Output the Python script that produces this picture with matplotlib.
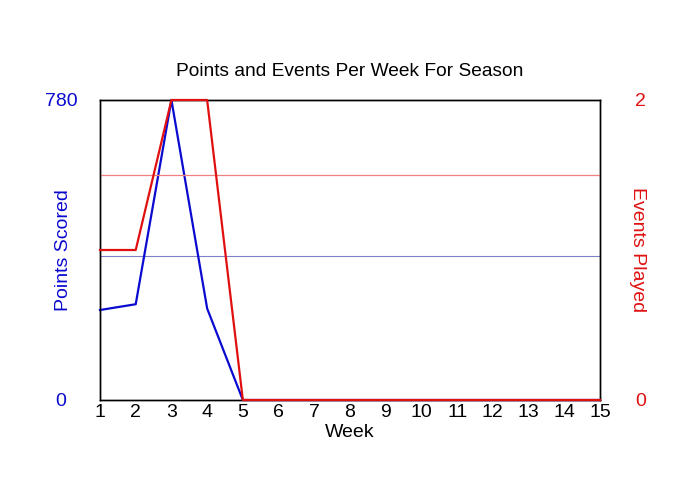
import matplotlib
matplotlib.use("Agg")
import matplotlib.pyplot as plt

weeks = list(range(1, 16))
points = [234, 249, 780, 238, 0, 0, 0, 0, 0, 0, 0, 0, 0, 0, 0]
events = [1, 1, 2, 2, 0, 0, 0, 0, 0, 0, 0, 0, 0, 0, 0]
points_avg = 375.25
events_avg = 1.5

plt.rcParams['font.family'] = ['Liberation Sans', 'DejaVu Sans']

fig = plt.figure(figsize=(7, 5), dpi=100)
ax = fig.add_axes([100/700, 0.2, 500/700, 0.6])
ax2 = ax.twinx()

blue = '#0a0ad0'
red = '#e01010'

ax.axhline(points_avg, color='#8080c8', lw=0.8, zorder=1)
ax.plot(weeks, points, color=blue, lw=1.6, zorder=3, clip_on=False)
ax2.axhline(events_avg, color='#f08080', lw=0.9, zorder=1)
ax2.plot(weeks, events, color=red, lw=1.6, zorder=3, clip_on=False)

ax.set_xlim(1, 15)
ax.set_ylim(0, 780)
ax2.set_ylim(0, 2)
ax.set_xticks(weeks)
ax.set_yticks([0, 780])
ax2.set_yticks([0, 2])

ax.tick_params(axis='x', length=0, pad=3, labelsize=14, colors='black')
ax.tick_params(axis='y', length=0, pad=28, labelsize=14, labelcolor=blue)
ax2.tick_params(axis='y', length=0, pad=29, labelsize=14, labelcolor=red)
for t in ax.get_yticklabels():
    t.set_horizontalalignment('center')
for t in ax2.get_yticklabels():
    t.set_horizontalalignment('center')

for a in (ax, ax2):
    for s in a.spines.values():
        s.set_color('black')
        s.set_linewidth(1)
        s.set_zorder(2)

ax.set_xlabel('Week', fontsize=14, labelpad=2)
ax.set_ylabel('Points Scored', fontsize=14, color=blue)
ax2.set_ylabel('Events Played', fontsize=14, color=red, rotation=-90)
ax.yaxis.set_label_coords(-0.056, 0.5)
ax2.yaxis.set_label_coords(1.092, 0.5)
ax.set_title('Points and Events Per Week For Season', fontsize=13.8, pad=17)

fig.savefig('out.png', dpi=100)
